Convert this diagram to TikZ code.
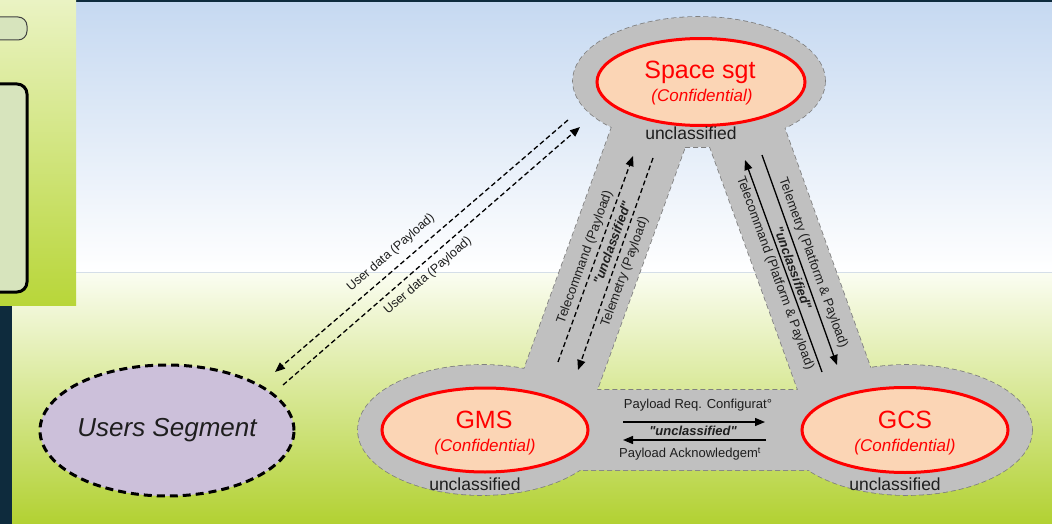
\documentclass[tikz,border=0pt]{standalone}
\usepackage{fontspec}
\setmainfont{Liberation Sans}[Ligatures=TeXOff]
\usetikzlibrary{shapes.geometric,arrows.meta}

\definecolor{navy}{HTML}{0E2B3D}
\definecolor{skytop}{HTML}{C6D9F1}
\definecolor{grasstop}{HTML}{FBFDF2}
\definecolor{grassmid}{HTML}{DDEB9E}
\definecolor{grassbot}{HTML}{B2D132}
\definecolor{paneltop}{HTML}{EAF3C3}
\definecolor{panelbot}{HTML}{B8D639}
\definecolor{panelbox}{HTML}{D7E4BD}
\definecolor{bodygray}{HTML}{C0C0C0}
\definecolor{edgegray}{HTML}{808080}
\definecolor{peach}{HTML}{FBD5B5}
\definecolor{lavender}{HTML}{CCC0DA}
\definecolor{txt}{HTML}{1E1E1E}
\definecolor{seam}{HTML}{D5DEE8}

\tikzset{
  graybody/.style={fill=bodygray},
  grayedge/.style={draw=edgegray, line width=1.6pt, dash pattern=on 5pt off 3pt},
  secure/.style={ellipse, draw=red, line width=3pt, fill=peach, inner sep=0pt},
  seglabel/.style={text=red, inner sep=0pt, font=\fontsize{25}{28}\selectfont},
  conflabel/.style={text=red, inner sep=0pt, font=\fontsize{17}{20}\selectfont\itshape},
  unclabel/.style={text=txt, inner sep=0pt, font=\fontsize{17.5}{20}\selectfont},
  flowlabel/.style={text=txt, inner sep=0pt, font=\fontsize{13}{15}\selectfont},
  userlabel/.style={text=txt, inner sep=0pt, font=\fontsize{12.5}{15}\selectfont},
  classlabel/.style={text=txt, inner sep=0pt, font=\fontsize{13}{15}\selectfont\bfseries\itshape},
  flowtip/.style={-{Triangle[length=10pt,width=8pt]}},
  dflow/.style={flowtip, draw=black, line width=1.3pt, dash pattern=on 5pt off 3pt},
  sflow/.style={flowtip, draw=black, line width=1.3pt},
  usersseg/.style={ellipse, fill=lavender, draw=black, line width=3pt,
    dash pattern=on 8pt off 5pt, minimum width=254pt, minimum height=131pt,
    inner sep=0pt, font=\fontsize{26}{30}\selectfont\itshape, text=txt},
}

\begin{document}
\begin{tikzpicture}[x=1pt,y=-1pt]
\useasboundingbox (0,0) rectangle (1052,524);
\clip (0,0) rectangle (1052,524);

% backdrop: dark frame, sky and grass gradients
\fill[navy] (0,0) rectangle (1052,524);
\shade[top color=skytop, bottom color=white] (12,3) rectangle (1052,272);
\shade[top color=grasstop, middle color=grassmid, bottom color=grassbot] (12,272) rectangle (1052,524);
\draw[seam, line width=1pt] (12,272.5) -- (1052,272.5);

% side panel with its boxes
\shade[top color=paneltop, bottom color=panelbot] (0,0) rectangle (76,305);
\draw[fill=panelbox, draw=black!75, line width=1pt, rounded corners=9pt] (-30,17) rectangle (27,40);
\draw[fill=panelbox, draw=black, line width=3pt, rounded corners=10pt] (-30,84) rectangle (27,292);

% unclassified zone: outlines first, then fills to hide the inner seams
\path[graybody, grayedge] (699,81) ellipse [x radius=126, y radius=64];
\path[graybody, grayedge] (482,430) ellipse [x radius=124, y radius=65];
\path[graybody, grayedge] (907,430) ellipse [x radius=125, y radius=65];
\path[graybody, grayedge, even odd rule]
  (618,110) -- (778,110) -- (882,400) -- (882,470) -- (530,470) -- (513,400) -- cycle
  (685,147) -- (710,147) -- (798,390) -- (597,390) -- cycle;
\fill[bodygray] (699,81) ellipse [x radius=126, y radius=64];
\fill[bodygray] (482,430) ellipse [x radius=124, y radius=65];
\fill[bodygray] (907,430) ellipse [x radius=125, y radius=65];
\fill[bodygray, even odd rule]
  (618,110) -- (778,110) -- (882,400) -- (882,470) -- (530,470) -- (513,400) -- cycle
  (685,147) -- (710,147) -- (798,390) -- (597,390) -- cycle;

% confidential segments
\node[secure, minimum width=208pt, minimum height=87pt] (space) at (701,82) {};
\node[seglabel] (spaceName) at (700,72) {Space sgt};
\node[conflabel] (spaceConf) at (702,97) {(Confidential)};
\node[unclabel] (spaceUnc) at (691,133) {unclassified};

\node[secure, minimum width=206pt, minimum height=84pt] (gms) at (485,430) {};
\node[seglabel] (gmsName) at (484,420) {GMS};
\node[conflabel] (gmsConf) at (485,447) {(Confidential)};
\node[unclabel] (gmsUnc) at (475,484) {unclassified};

\node[secure, minimum width=206pt, minimum height=85pt] (gcs) at (905,430) {};
\node[seglabel] (gcsName) at (905,420) {GCS};
\node[conflabel] (gcsConf) at (905,447) {(Confidential)};
\node[unclabel] (gcsUnc) at (895,484) {unclassified};

% users segment
\node[usersseg] (users) at (167,430.5) {Users Segment};

% user data links
\coordinate (udDownA) at (568,120);
\coordinate (udDownB) at (275,372);
\coordinate (udUpA) at (283,385);
\coordinate (udUpB) at (580,127);
\draw[dflow] (udDownA) -- (udDownB);
\draw[dflow] (udUpA) -- (udUpB);
\node[userlabel, rotate=41] (udText1) at (391,253) {User data (Payload)};
\node[userlabel, rotate=41] (udText2) at (428,276) {User data (Payload)};

% GMS <-> space links
\coordinate (tcUpA) at (558,362);
\coordinate (tcUpB) at (633,156);
\coordinate (tmDownA) at (653,158);
\coordinate (tmDownB) at (578,370);
\draw[dflow] (tcUpA) -- (tcUpB);
\draw[dflow] (tmDownA) -- (tmDownB);
\node[flowlabel, rotate=70] (gmsTc) at (585,257) {Telecommand (Payload)};
\node[classlabel, rotate=70] (gmsCls) at (612,243) {"unclassified"};
\node[flowlabel, rotate=70] (gmsTm) at (625,272) {Telemetry (Payload)};

% GCS <-> space links
\coordinate (tmGcsA) at (762,155);
\coordinate (tmGcsB) at (837,365);
\coordinate (tcGcsA) at (822,372);
\coordinate (tcGcsB) at (745,160);
\draw[sflow] (tmGcsA) -- (tmGcsB);
\draw[sflow] (tcGcsA) -- (tcGcsB);
\node[flowlabel, rotate=-70] (gcsTm) at (813,263) {Telemetry (Platform \& Payload)};
\node[classlabel, rotate=-70] (gcsCls) at (793,268) {"unclassified"};
\node[flowlabel, rotate=-70] (gcsTc) at (775,273) {Telecommand (Platform \& Payload)};

% GMS <-> GCS links
\coordinate (reqA) at (623,422);
\coordinate (reqB) at (765,422);
\coordinate (ackA) at (766,440);
\coordinate (ackB) at (623,440);
\draw[sflow] (reqA) -- (reqB);
\draw[sflow] (ackA) -- (ackB);
\node[flowlabel] (reqText) at (698,405) {Payload Req. Configurat°};
\node[classlabel] (linkCls) at (693,431) {"unclassified"};
\node[flowlabel] (ackText) at (690,454) {Payload Acknowledgem\textsuperscript{t}};
\end{tikzpicture}
\end{document}
